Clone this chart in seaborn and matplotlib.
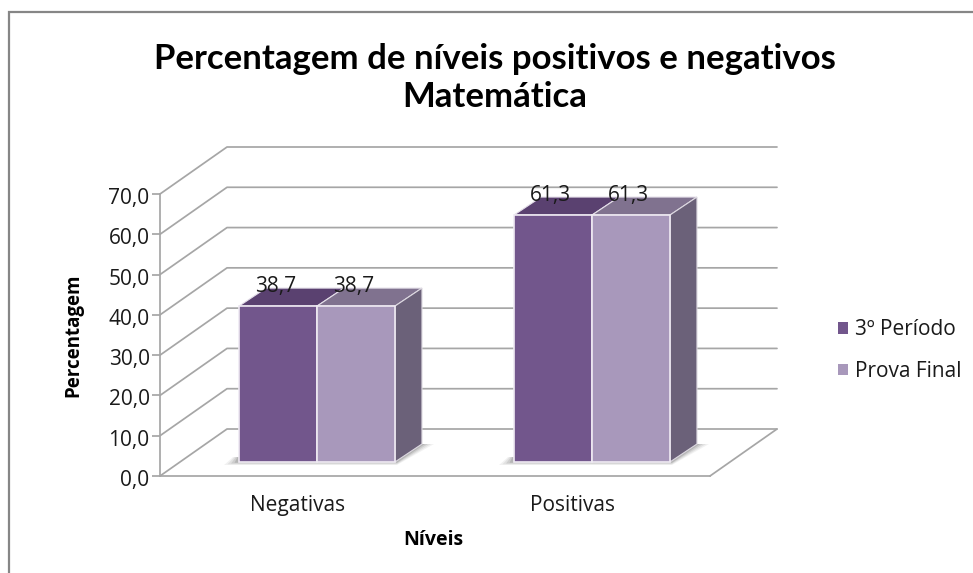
import matplotlib
matplotlib.use("Agg")
import matplotlib.pyplot as plt
import matplotlib.patches as mp
from matplotlib.transforms import Affine2D
from matplotlib.lines import Line2D
import pandas as pd
import seaborn as sns

categories = ["Negativas", "Positivas"]
series_names = ["3º Período", "Prova Final"]
periodo_3 = [38.7, 61.3]
prova_final = [38.7, 61.3]
y_ticks = [0, 10, 20, 30, 40, 50, 60, 70]

W, H = 973, 573
sns.set_theme(style="white")
plt.rcParams["font.family"] = ["Open Sans", "DejaVu Sans"]
TITLE_FONT = ["Lato", "DejaVu Sans"]

df = pd.DataFrame({
    "Níveis": categories * 2,
    "Série": [series_names[0]] * 2 + [series_names[1]] * 2,
    "Percentagem": periodo_3 + prova_final,
})

fig = plt.figure(figsize=(W / 100, H / 100), dpi=100)
fig.patch.set_facecolor("white")

# chart frame: only the top and left edges are visible in the crop
border = "#868686"
fig.add_artist(Line2D([9 / W, 9 / W, 1], [0, 1 - 12 / H, 1 - 12 / H],
                      color=border, lw=1.6, zorder=-2, solid_joinstyle="miter"))

ax = fig.add_axes([160 / W, 1 - 476 / H, 550 / W, 282 / H])
ax.patch.set_alpha(0)
colors = ["#72568c", "#a898bb"]
sns.barplot(data=df, x="Níveis", y="Percentagem", hue="Série", order=categories,
            hue_order=series_names, palette=colors, saturation=1, width=0.567, gap=0,
            ax=ax, legend=False, zorder=3, edgecolor="#efeaf3", linewidth=1.2)
ax.set_xlim(-0.5, 1.5)
ax.set_ylim(0, 70)

# depth offsets in pixels
DX, DY = 67, 47
back = ax.transData + Affine2D().translate(DX, DY)
bar_shift = ax.transData + Affine2D().translate(19.5, 14)
side_dx, side_dy = 27, 18
grid_col = "#a6a6a6"
LW = 1.25

# walls and floor gridlines, drawn behind the axes
x0, x1 = ax.get_xlim()
for v in y_ticks:
    back_pts = back.transform([(x0, v), (x1, v)])
    front_pt = ax.transData.transform((x0, v))
    fig.add_artist(Line2D([front_pt[0] / W, back_pts[0][0] / W, back_pts[1][0] / W],
                          [front_pt[1] / H, back_pts[0][1] / H, back_pts[1][1] / H],
                          color=grid_col, lw=LW, zorder=-1))
fr = ax.transData.transform((x1, 0))
bk = back.transform((x1, 0))
fig.add_artist(Line2D([fr[0] / W, bk[0] / W], [fr[1] / H, bk[1] / H],
                      color=grid_col, lw=LW, zorder=-1))

bars = [b for b in ax.patches if b.get_height() > 0]
bars.sort(key=lambda b: b.get_x())
shade = {colors[0]: ("#5a4170", "#5a4170"), colors[1]: ("#80728f", "#6b6179")}
for i, b in enumerate(bars):
    b.set_transform(bar_shift)
    xa, xb, v = b.get_x(), b.get_x() + b.get_width(), b.get_height()
    is_first = i % 2 == 0
    face = colors[0] if is_first else colors[1]
    bl, br, tl, tr = bar_shift.transform([(xa, 0), (xb, 0), (xa, v), (xb, v)])
    top = [tl, tr, tr + (side_dx, side_dy), tl + (side_dx, side_dy)]
    ax.add_patch(mp.Polygon(top, closed=True, transform=None, fc=shade[face][0],
                            ec="#e4dfe9", lw=0.8, zorder=2.5, clip_on=False))
    if not is_first:
        side = [br, tr, tr + (side_dx, side_dy), br + (side_dx, side_dy)]
        ax.add_patch(mp.Polygon(side, closed=True, transform=None, fc=shade[face][1],
                                ec="#dcd8e0", lw=0.8, zorder=2.5, clip_on=False))
        # soft floor shadows
        g_bl = bar_shift.transform((bars[i - 1].get_x(), 0))
        for k, a in zip([1.0, 0.75, 0.5, 0.25], [0.08, 0.10, 0.14, 0.20]):
            s = [g_bl + (-14 * k - 1, -3 * k), br + (2, -3 * k),
                 br + (side_dx + 12 * k, side_dy), br + (side_dx, side_dy),
                 g_bl + (0, 5), g_bl + (-6 * k, 5)]
            ax.add_patch(mp.Polygon(s, closed=True, transform=None, fc="#555555", ec="none",
                                    alpha=a, zorder=2.2, clip_on=False))
    cx = (xa + xb) / 2
    ax.annotate(f"{v:.1f}".replace(".", ","), xy=(cx, v), xycoords=bar_shift,
                xytext=(-1.5, 14), textcoords="offset points", ha="center", va="center",
                fontsize=15, color="#1a1a1a", zorder=5, annotation_clip=False)

# axes styling
for s in ["top", "right"]:
    ax.spines[s].set_visible(False)
for s in ["left", "bottom"]:
    ax.spines[s].set_color(grid_col)
    ax.spines[s].set_linewidth(LW)
    ax.spines[s].set_zorder(1)
ax.set_yticks(y_ticks)
ax.set_yticklabels([f"{v:.1f}".replace(".", ",") for v in y_ticks])
ax.tick_params(axis="y", length=6, width=LW, color=grid_col, left=True, pad=1.5,
               labelsize=15, labelcolor="#1a1a1a")
ax.tick_params(axis="x", length=0, pad=13.5, labelsize=15, labelcolor="#1a1a1a")
for lab in ax.get_yticklabels():
    lab.set_transform(lab.get_transform() + Affine2D().translate(0, -2))
ax.set_xlabel("")
ax.set_ylabel("")
fig.text(73 / W, 1 - 335 / H, "Percentagem", rotation=90, ha="center", va="center",
         fontsize=13.5, fontweight="bold", color="black")
fig.text(433 / W, 1 - 540 / H, "Níveis", ha="center", va="center",
         fontsize=14, fontweight="bold", color="black")
fig.text(495 / W, 1 - 78 / H, "Percentagem de níveis positivos e negativos\nMatemática",
         ha="center", va="center", fontsize=25, fontweight="bold", color="black",
         linespacing=1.2, family=TITLE_FONT)

handles = [mp.Patch(fc=c, ec="none", label=n) for c, n in zip(colors, series_names)]
fig.legend(handles=handles, loc="upper left", bbox_to_anchor=(838 / W, 1 - 319 / H),
           frameon=False, fontsize=15, handlelength=0.5, handleheight=0.5,
           handletextpad=0.32, labelspacing=1.0, borderpad=0, borderaxespad=0,
           labelcolor="#1a1a1a")

fig.savefig("out.png", dpi=100)
